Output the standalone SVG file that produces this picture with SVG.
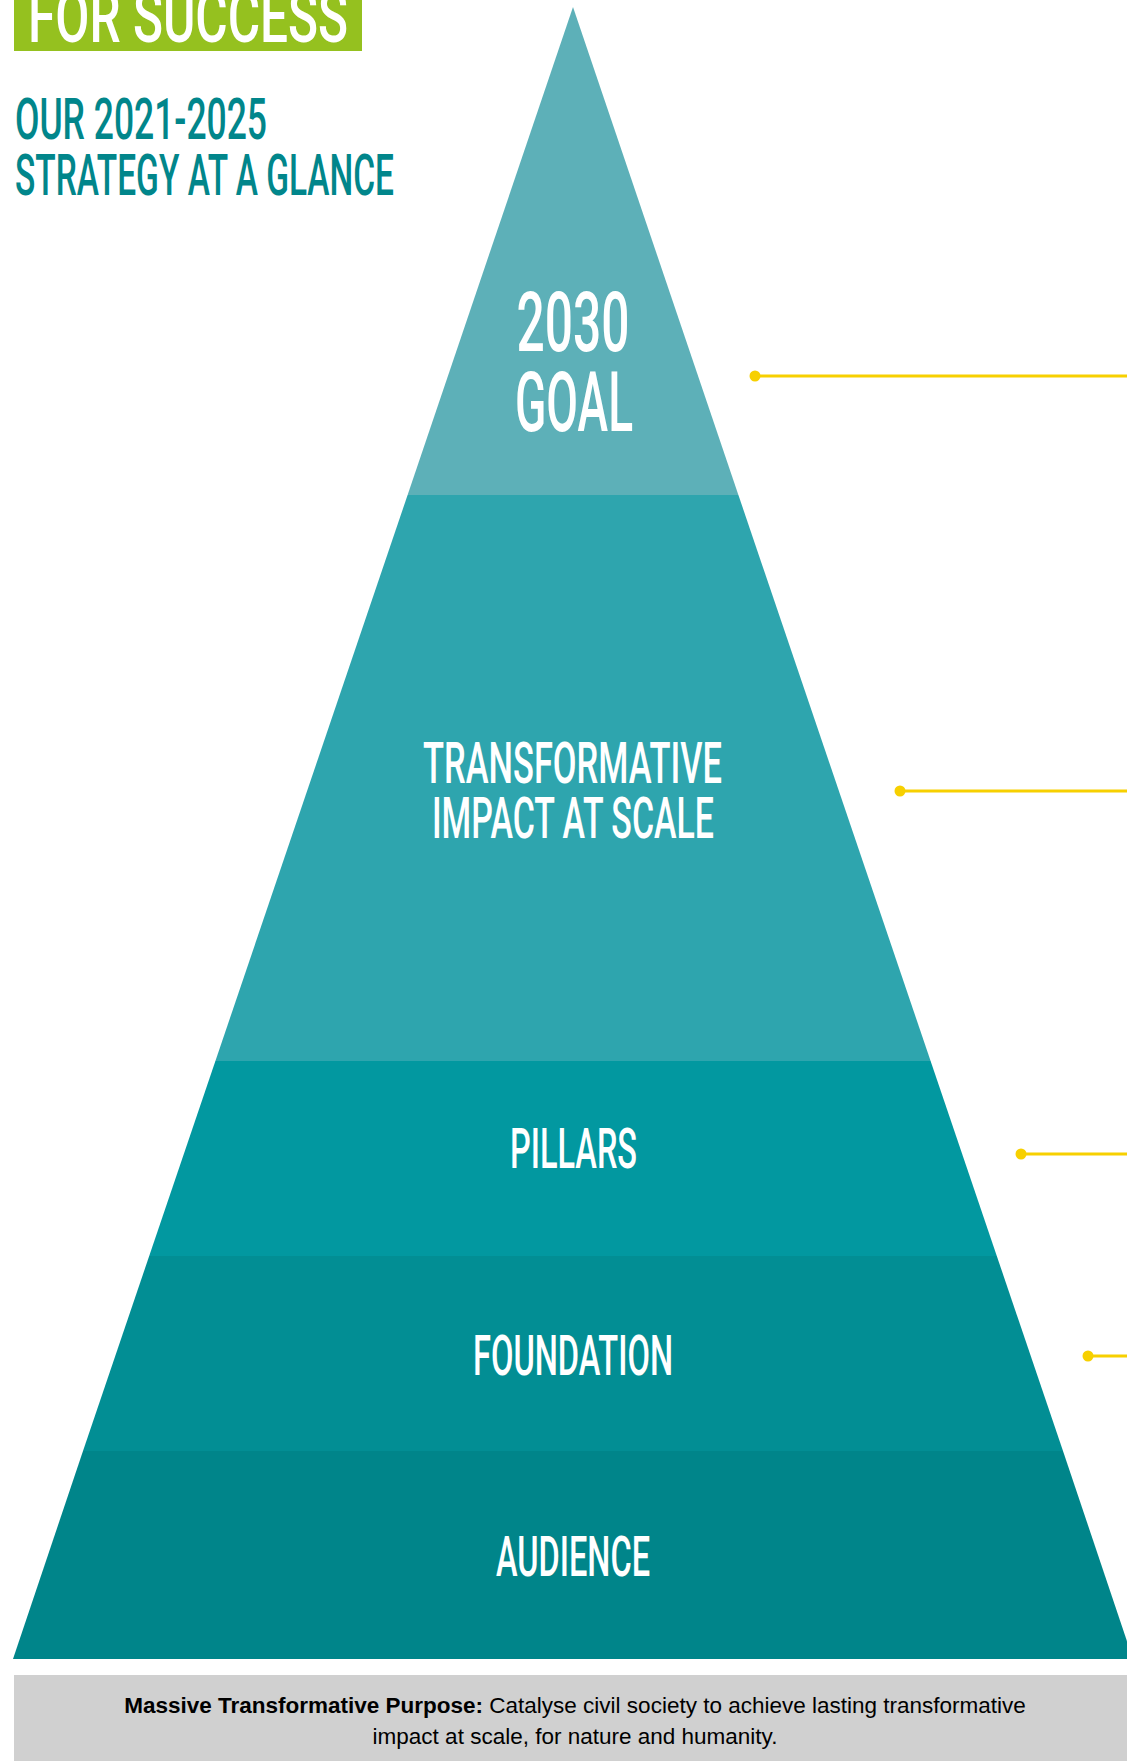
<svg xmlns="http://www.w3.org/2000/svg" width="1127" height="1761" viewBox="0 0 1127 1761">
<style>
.lbl{font-family:Roboto,"Liberation Sans",sans-serif;font-weight:500;fill:#ffffff;text-anchor:middle}
.hdr{font-family:Roboto,"Liberation Sans",sans-serif;font-weight:500;fill:#01868B}
.conn line{stroke:#F7D000;stroke-width:3}
.conn circle{fill:#F7D000}
.mtp{font-family:"Liberation Sans",Arial,sans-serif;font-size:22.5px;fill:#000;text-anchor:middle}
</style>
<rect width="1127" height="1761" fill="#ffffff"/>
<g id="title">
<rect x="14" y="0" width="348" height="51" fill="#95C11F"/>
<text x="28" y="42" font-family="Roboto,'Liberation Sans',sans-serif" font-weight="500" font-size="72" fill="#ffffff" textLength="320" lengthAdjust="spacingAndGlyphs">FOR SUCCESS</text>
<text class="hdr" x="15" y="139" font-size="57" textLength="252" lengthAdjust="spacingAndGlyphs">OUR 2021-2025</text>
<text class="hdr" x="15" y="195" font-size="57" textLength="379" lengthAdjust="spacingAndGlyphs">STRATEGY AT A GLANCE</text>
</g>
<g id="goal">
<polygon points="573,7 407.6,495 738.4,495" fill="#5DB0B8"/>
<text class="lbl" x="573" y="351" font-size="83" textLength="113" lengthAdjust="spacingAndGlyphs">2030</text>
<text class="lbl" x="574" y="431" font-size="83" textLength="118" lengthAdjust="spacingAndGlyphs">GOAL</text>
</g>
<g id="impact">
<polygon points="407.6,495 738.4,495 930.6,1061 215.4,1061" fill="#2EA5AE"/>
<text class="lbl" x="572.5" y="783" font-size="57" textLength="299" lengthAdjust="spacingAndGlyphs">TRANSFORMATIVE</text>
<text class="lbl" x="573" y="838" font-size="57" textLength="282" lengthAdjust="spacingAndGlyphs">IMPACT AT SCALE</text>
</g>
<g id="pillars">
<polygon points="215.4,1061 930.6,1061 996.8,1256 149.2,1256" fill="#0298A0"/>
<text class="lbl" x="573.5" y="1168" font-size="56" textLength="127" lengthAdjust="spacingAndGlyphs">PILLARS</text>
</g>
<g id="foundation">
<polygon points="149.2,1256 996.8,1256 1063,1451 83,1451" fill="#028E94"/>
<text class="lbl" x="573" y="1375" font-size="56" textLength="200" lengthAdjust="spacingAndGlyphs">FOUNDATION</text>
</g>
<g id="audience">
<polygon points="83,1451 1063,1451 1133,1659 13,1659" fill="#00858A"/>
<text class="lbl" x="573" y="1576" font-size="56" textLength="154" lengthAdjust="spacingAndGlyphs">AUDIENCE</text>
</g>
<g id="connectors" class="conn">
<line x1="755" y1="376" x2="1127" y2="376"/><circle cx="755" cy="376" r="5.5"/>
<line x1="900" y1="791" x2="1127" y2="791"/><circle cx="900" cy="791" r="5.5"/>
<line x1="1021" y1="1154" x2="1127" y2="1154"/><circle cx="1021" cy="1154" r="5.5"/>
<line x1="1088" y1="1356" x2="1127" y2="1356"/><circle cx="1088" cy="1356" r="5.5"/>
</g>
<g id="purpose">
<rect x="14" y="1675" width="1113" height="86" fill="#D0D0D0"/>
<text class="mtp" x="575" y="1713"><tspan font-weight="bold">Massive Transformative Purpose:</tspan> Catalyse civil society to achieve lasting transformative</text>
<text class="mtp" x="575" y="1744">impact at scale, for nature and humanity.</text>
</g>
</svg>
